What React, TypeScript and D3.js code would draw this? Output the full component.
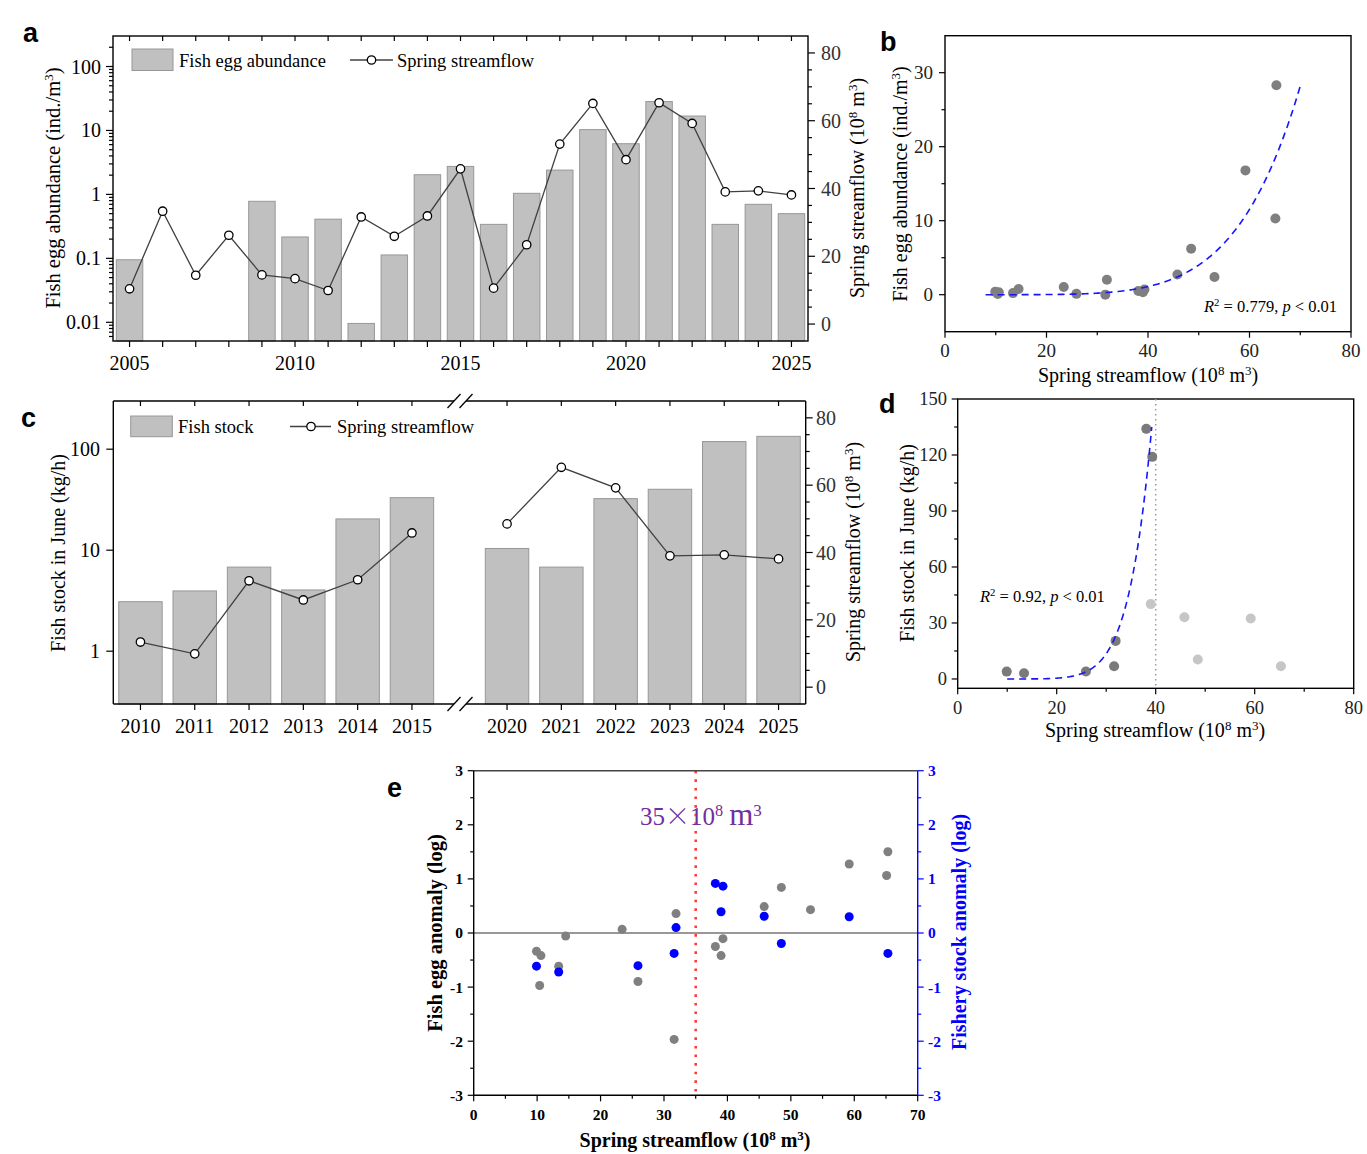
import * as d3 from "d3";

// ---- data ----
const years = [
  2005, 2006, 2007, 2008, 2009, 2010, 2011, 2012, 2013, 2014, 2015,
  2016, 2017, 2018, 2019, 2020, 2021, 2022, 2023, 2024, 2025,
];
// spring streamflow (10^8 m^3)
const streamflow = [
  10.4, 33.3, 14.4, 26.2, 14.5, 13.4, 9.9, 31.6, 25.9, 31.9, 45.8,
  10.6, 23.4, 53.1, 65.1, 48.5, 65.3, 59.2, 39.0, 39.3, 38.1,
];
// fish egg abundance (ind./m^3), no survey 2006-2008
const eggAbundance: (number | null)[] = [
  0.095, null, null, null, 0.78, 0.216, 0.41, 0.0096, 0.113, 2.03, 2.74,
  0.34, 1.04, 2.4, 10.3, 6.2, 28.3, 16.8, 0.34, 0.7, 0.5,
];
// fish stock in June (kg/h)
const stockYears = [2010, 2011, 2012, 2013, 2014, 2015, 2020, 2021, 2022, 2023, 2024, 2025];
const fishStock = [3.09, 3.95, 6.8, 4.04, 20.4, 33.1, 10.4, 6.8, 32.4, 40.1, 119, 134];
// years used for the fit in panel d (dark points)
const stockFitYears = [2010, 2011, 2012, 2013, 2014, 2024, 2025];

const eggTicks = [0.01, 0.1, 1, 10, 100];
const stockTicks = [1, 10, 100];
const flowTicks = [0, 20, 40, 60, 80];
const yearLabelsA = [2005, 2010, 2015, 2020, 2025];

// fitted curves (power law through the end point)
const fitB = { k: 5.8, x0: 8, x1: 70, y1: 28.2 };
const fitD = { k: 8.6, x0: 10, x1: 39.2, y1: 135 };
const thresholdE = 35;

// ---- derived ----
const flowByYear = new Map(years.map((y, i) => [y, streamflow[i]]));
const eggPoints = years
  .map((y, i) => ({ year: y, flow: streamflow[i], egg: eggAbundance[i] as number }))
  .filter((d) => d.egg != null);
const stockPoints = stockYears.map((y, i) => ({
  year: y,
  flow: flowByYear.get(y)!,
  stock: fishStock[i],
  fit: stockFitYears.includes(y),
}));
const eggMeanLog = d3.mean(eggPoints, (d) => Math.log10(d.egg))!;
const stockMeanLog = d3.mean(stockPoints, (d) => Math.log10(d.stock))!;

const serif = "'Liberation Serif', 'Times New Roman', serif";
const sans = "'Liberation Sans', Arial, sans-serif";

const BAR_FILL = "#c0c0c0";
const BAR_STROKE = "#979797";

const Sup = ({ children }: { children: string }) => (
  <tspan baselineShift="super" fontSize="0.65em">
    {children}
  </tspan>
);

const FlowTitle = () => (
  <>
    Spring streamflow (10<Sup>8</Sup> m<Sup>3</Sup>)
  </>
);

type Sc = (v: number) => number;

const vTicks = (key: string, vals: number[], y: Sc, x: number, len: number, stroke = "#000") =>
  vals.map((v, i) => (
    <line key={key + i} x1={x} x2={x + len} y1={y(v)} y2={y(v)} stroke={stroke} strokeWidth={1.2} />
  ));

const hTicks = (key: string, vals: number[], x: Sc, y: number, len: number, stroke = "#000") =>
  vals.map((v, i) => (
    <line key={key + i} x1={x(v)} x2={x(v)} y1={y} y2={y + len} stroke={stroke} strokeWidth={1.2} />
  ));

const vLabels = (
  key: string,
  vals: number[],
  y: Sc,
  x: number,
  anchor: string,
  size: number,
  extra: Record<string, any> = {}
) =>
  vals.map((v, i) => (
    <text key={key + i} x={x} y={y(v)} dy="0.35em" textAnchor={anchor} fontSize={size} {...extra}>
      {String(v)}
    </text>
  ));

const hLabels = (key: string, vals: number[], x: Sc, y: number, size: number, extra: Record<string, any> = {}) =>
  vals.map((v, i) => (
    <text key={key + i} x={x(v)} y={y} textAnchor="middle" fontSize={size} {...extra}>
      {String(v)}
    </text>
  ));

const vTitle = (cx: number, cy: number, size: number, content: any, extra: Record<string, any> = {}) => (
  <text transform={`translate(${cx},${cy}) rotate(-90)`} textAnchor="middle" dy="0.35em" fontSize={size} {...extra}>
    {content}
  </text>
);

const logMinor = (lo: number, hi: number) =>
  d3
    .range(-3, 3)
    .flatMap((e) => d3.range(2, 10).map((m) => m * 10 ** e))
    .filter((v) => v > lo && v < hi);

const powerCurve = (f: { k: number; x0: number; x1: number; y1: number }) =>
  d3.range(f.x0, f.x1 + 0.001, 0.2).map((x) => [x, f.y1 * (x / f.x1) ** f.k] as [number, number]);

export default function App() {
  // ---------- panel a ----------
  const A = { l: 113, t: 36, r: 808, b: 341 };
  const xA = d3.scaleLinear().domain([2004.5, 2025.5]).range([A.l, A.r]);
  const yA = d3.scaleLog().domain([0.0051, 300]).range([A.b, A.t]);
  const fA = d3.scaleLinear().domain([-5, 85]).range([A.b, A.t]);
  const bwA = (xA(1) - xA(0)) * 0.8;
  const lineA = d3
    .line<number>()
    .x((_, i) => xA(years[i]))
    .y((d) => fA(d))(streamflow)!;

  // ---------- panel b ----------
  const B = { l: 945, t: 35.7, r: 1351, b: 331.7 };
  const xB = d3.scaleLinear().domain([0, 80]).range([B.l, B.r]);
  const yB = d3.scaleLinear().domain([-5, 35]).range([B.b, B.t]);
  const fitPathB = d3
    .line<[number, number]>()
    .x((d) => xB(d[0]))
    .y((d) => yB(d[1]))(powerCurve(fitB))!;

  // ---------- panel c ----------
  const C = { l: 113.3, t: 401, r: 805.7, b: 704 };
  const xC = d3.scaleLinear().domain([2009.5, 2015.78, 2019.2, 2025.5]).range([C.l, 454.3, 463.6, C.r]);
  const yC = d3.scaleLog().domain([0.3, 300]).range([C.b, C.t]);
  const fC = d3.scaleLinear().domain([-5, 85]).range([C.b, C.t]);
  const bwC = (xC(2011) - xC(2010)) * 0.8;
  const lineC = d3
    .line<{ year: number; flow: number }>()
    .x((d) => xC(d.year))
    .y((d) => fC(d.flow));
  const segC1 = stockPoints.filter((d) => d.year < 2017);
  const segC2 = stockPoints.filter((d) => d.year > 2017);
  const brk1 = 454;
  const brk2 = 466;

  // ---------- panel d ----------
  const D = { l: 957.7, t: 399, r: 1353.7, b: 688.3 };
  const xD = d3.scaleLinear().domain([0, 80]).range([D.l, D.r]);
  const yD = d3.scaleLinear().domain([-5, 150]).range([D.b, D.t]);
  const fitPathD = d3
    .line<[number, number]>()
    .x((d) => xD(d[0]))
    .y((d) => yD(d[1]))(powerCurve(fitD))!;

  // ---------- panel e ----------
  const E = { l: 473.7, t: 770.7, r: 917.7, b: 1095.3 };
  const xE = d3.scaleLinear().domain([0, 70]).range([E.l, E.r]);
  const yE = d3.scaleLinear().domain([-3, 3]).range([E.b, E.t]);
  const BLUE = "#0000ff";

  return (
    <svg
      width={1367}
      height={1154}
      style={{ position: "absolute", left: 0, top: 0, background: "#fff" }}
      fontFamily={serif}
    >
      <rect width={1367} height={1154} fill="#fff" />

      {/* panel letters */}
      <g fontFamily={sans} fontWeight="bold" fontSize={27}>
        <text x={23} y={42}>a</text>
        <text x={880} y={51}>b</text>
        <text x={21} y={427}>c</text>
        <text x={879} y={413}>d</text>
        <text x={387} y={797}>e</text>
      </g>

      {/* ================= a ================= */}
      <g>
        {eggPoints.map((d) => (
          <rect
            key={d.year}
            x={xA(d.year) - bwA / 2}
            y={yA(d.egg)}
            width={bwA}
            height={A.b - yA(d.egg)}
            fill={BAR_FILL}
            stroke={BAR_STROKE}
            strokeWidth={1}
          />
        ))}
        <path d={lineA} fill="none" stroke="#404040" strokeWidth={1.3} />
        {years.map((y, i) => (
          <circle key={y} cx={xA(y)} cy={fA(streamflow[i])} r={4.2} fill="#fff" stroke="#000" strokeWidth={1.3} />
        ))}
        <rect x={A.l} y={A.t} width={A.r - A.l} height={A.b - A.t} fill="none" stroke="#000" strokeWidth={1.4} />
        {vTicks("aL", eggTicks, yA, A.l, -7)}
        {vTicks("aLm", logMinor(0.0051, 300), yA, A.l, -4)}
        {vTicks("aR", flowTicks, fA, A.r, 7)}
        {vTicks("aRm", d3.range(5, 80, 5).filter((v) => v % 20 !== 0), fA, A.r, 4)}
        {hTicks("aB", years, xA, A.b, 6)}
        {hTicks("aT", years, xA, A.t, 5)}
        {vLabels("aLl", eggTicks, yA, 101, "end", 20)}
        {vLabels("aRl", flowTicks, fA, 821, "start", 20, { fill: "#333" })}
        {hLabels("aBl", yearLabelsA, xA, 370, 20)}
        {vTitle(53, 188, 20.5, <>Fish egg abundance (ind./m<Sup>3</Sup>)</>)}
        {vTitle(857, 188, 20, <FlowTitle />)}
        {/* legend */}
        <rect x={132} y={49} width={41} height={21.5} fill={BAR_FILL} stroke={BAR_STROKE} />
        <text x={179} y={67} fontSize={18.5}>Fish egg abundance</text>
        <line x1={350} x2={393} y1={60} y2={60} stroke="#404040" strokeWidth={1.3} />
        <circle cx={371.5} cy={60} r={4.2} fill="#fff" stroke="#000" strokeWidth={1.3} />
        <text x={397} y={67} fontSize={18.5}>Spring streamflow</text>
      </g>

      {/* ================= b ================= */}
      <g>
        <rect x={B.l} y={B.t} width={B.r - B.l} height={B.b - B.t} fill="none" stroke="#000" strokeWidth={1.4} />
        {hTicks("bB", [0, 20, 40, 60, 80], xB, B.b, 6)}
        {hTicks("bBm", [10, 30, 50, 70], xB, B.b, 3.5)}
        {vTicks("bL", [0, 10, 20, 30], yB, B.l, -6)}
        {vTicks("bLm", [5, 15, 25], yB, B.l, -3.5)}
        {hLabels("bBl", [0, 20, 40, 60, 80], xB, 357, 19, { fill: "#222" })}
        {vLabels("bLl", [0, 10, 20, 30], yB, 933, "end", 19, { fill: "#222" })}
        {eggPoints.map((d) => (
          <circle key={d.year} cx={xB(d.flow)} cy={yB(d.egg)} r={5} fill="#7f7f7f" />
        ))}
        <path d={fitPathB} fill="none" stroke="#1515ff" strokeWidth={1.6} strokeDasharray="7,5" />
        <text x={1204} y={312} fontSize={16.5}>
          <tspan fontStyle="italic">R</tspan>
          <Sup>2</Sup> = 0.779, <tspan fontStyle="italic">p</tspan> &lt; 0.01
        </text>
        {vTitle(900, 184, 20, <>Fish egg abundance (ind./m<Sup>3</Sup>)</>)}
        <text x={1148} y={382} textAnchor="middle" fontSize={20}>
          <FlowTitle />
        </text>
      </g>

      {/* ================= c ================= */}
      <g>
        {stockPoints.map((d) => (
          <rect
            key={d.year}
            x={xC(d.year) - bwC / 2}
            y={yC(d.stock)}
            width={bwC}
            height={C.b - yC(d.stock)}
            fill={BAR_FILL}
            stroke={BAR_STROKE}
            strokeWidth={1}
          />
        ))}
        <path d={lineC(segC1)!} fill="none" stroke="#404040" strokeWidth={1.3} />
        <path d={lineC(segC2)!} fill="none" stroke="#404040" strokeWidth={1.3} />
        {stockPoints.map((d) => (
          <circle key={d.year} cx={xC(d.year)} cy={fC(d.flow)} r={4.2} fill="#fff" stroke="#000" strokeWidth={1.3} />
        ))}
        {/* frame with axis break */}
        <g stroke="#000" strokeWidth={1.4} fill="none">
          <line x1={C.l} x2={C.l} y1={C.t} y2={C.b} />
          <line x1={C.r} x2={C.r} y1={C.t} y2={C.b} />
          <line x1={C.l} x2={brk1} y1={C.b} y2={C.b} />
          <line x1={brk2} x2={C.r} y1={C.b} y2={C.b} />
          <line x1={C.l} x2={brk1} y1={C.t} y2={C.t} />
          <line x1={brk2} x2={C.r} y1={C.t} y2={C.t} />
          {[C.t, C.b].map((yy) =>
            [brk1, brk2].map((bx) => (
              <line key={`${yy}-${bx}`} x1={bx - 6.5} x2={bx + 6.5} y1={yy + 7} y2={yy - 7} strokeWidth={1.3} />
            ))
          )}
        </g>
        {vTicks("cL", stockTicks, yC, C.l, -7)}
        {vTicks("cR", flowTicks, fC, C.r, 7)}
        {vTicks("cRm", d3.range(5, 80, 5).filter((v) => v % 20 !== 0), fC, C.r, 4)}
        {hTicks("cB", stockYears, xC, C.b, 6)}
        {hTicks("cT", stockYears, xC, C.t, 5)}
        {vLabels("cLl", stockTicks, yC, 100, "end", 20)}
        {vLabels("cRl", flowTicks, fC, 816, "start", 20, { fill: "#333" })}
        {hLabels("cBl", stockYears, xC, 733, 20)}
        {vTitle(58, 553, 20, "Fish stock in June (kg/h)")}
        {vTitle(853, 552, 20, <FlowTitle />)}
        <rect x={130.7} y={416} width={41.6} height={20.7} fill={BAR_FILL} stroke={BAR_STROKE} />
        <text x={178} y={433} fontSize={18.5}>Fish stock</text>
        <line x1={290} x2={331} y1={426.5} y2={426.5} stroke="#404040" strokeWidth={1.3} />
        <circle cx={311} cy={426.5} r={4.2} fill="#fff" stroke="#000" strokeWidth={1.3} />
        <text x={337} y={433} fontSize={18.5}>Spring streamflow</text>
      </g>

      {/* ================= d ================= */}
      <g>
        <rect x={D.l} y={D.t} width={D.r - D.l} height={D.b - D.t} fill="none" stroke="#000" strokeWidth={1.4} />
        <line x1={xD(40)} x2={xD(40)} y1={D.t} y2={D.b} stroke="#999" strokeWidth={1.5} strokeDasharray="1.5,3.5" />
        {hTicks("dB", [0, 20, 40, 60, 80], xD, D.b, 6)}
        {hTicks("dBm", [10, 30, 50, 70], xD, D.b, 3.5)}
        {vTicks("dL", [0, 30, 60, 90, 120, 150], yD, D.l, -6)}
        {vTicks("dLm", [15, 45, 75, 105, 135], yD, D.l, -3.5)}
        {hLabels("dBl", [0, 20, 40, 60, 80], xD, 714, 18.5, { fill: "#222" })}
        {vLabels("dLl", [0, 30, 60, 90, 120, 150], yD, 947, "end", 18.5, { fill: "#222" })}
        {stockPoints.map((d) => (
          <circle key={d.year} cx={xD(d.flow)} cy={yD(d.stock)} r={5} fill={d.fit ? "#7a7a7a" : "#c6c6c6"} />
        ))}
        <path d={fitPathD} fill="none" stroke="#1515ff" strokeWidth={1.6} strokeDasharray="7,5" />
        <text x={980} y={602} fontSize={16.5}>
          <tspan fontStyle="italic">R</tspan>
          <Sup>2</Sup> = 0.92, <tspan fontStyle="italic">p</tspan> &lt; 0.01
        </text>
        {vTitle(907, 543, 20, "Fish stock in June (kg/h)")}
        <text x={1155} y={737} textAnchor="middle" fontSize={20}>
          <FlowTitle />
        </text>
      </g>

      {/* ================= e ================= */}
      <g fontWeight="bold">
        <line x1={E.l} x2={E.r} y1={yE(0)} y2={yE(0)} stroke="#333" strokeWidth={1.2} />
        <line x1={xE(thresholdE)} x2={xE(thresholdE)} y1={E.t} y2={E.b} stroke="#ff3b3b" strokeWidth={2.6} strokeDasharray="2.6,6" />
        {eggPoints.map((d) => (
          <circle key={"g" + d.year} cx={xE(d.flow)} cy={yE(Math.log10(d.egg) - eggMeanLog)} r={4.5} fill="#808080" />
        ))}
        {stockPoints.map((d) => (
          <circle key={"s" + d.year} cx={xE(d.flow)} cy={yE(Math.log10(d.stock) - stockMeanLog)} r={4.5} fill={BLUE} />
        ))}
        <line x1={E.l} x2={E.r} y1={E.t} y2={E.t} stroke="#444" strokeWidth={1.4} />
        <line x1={E.l} x2={E.r} y1={E.b} y2={E.b} stroke="#000" strokeWidth={1.4} />
        <line x1={E.l} x2={E.l} y1={E.t} y2={E.b} stroke="#000" strokeWidth={1.4} />
        <line x1={E.r} x2={E.r} y1={E.t} y2={E.b} stroke={BLUE} strokeWidth={1.4} />
        {vTicks("eL", d3.range(-3, 4), yE, E.l, -6)}
        {vTicks("eLm", d3.range(-2.5, 3, 1), yE, E.l, -3.5)}
        {vTicks("eR", d3.range(-3, 4), yE, E.r, 6, BLUE)}
        {vTicks("eRm", d3.range(-2.5, 3, 1), yE, E.r, 3.5, BLUE)}
        {hTicks("eB", d3.range(0, 71, 10), xE, E.b, 6)}
        {hTicks("eBm", d3.range(5, 70, 10), xE, E.b, 3.5)}
        {vLabels("eLl", d3.range(-3, 4), yE, 463, "end", 15.5)}
        {vLabels("eRl", d3.range(-3, 4), yE, 928, "start", 15.5, { fill: BLUE })}
        {hLabels("eBl", d3.range(0, 71, 10), xE, 1120, 15.5)}
        {vTitle(435, 933, 20.5, "Fish egg anomaly (log)")}
        {vTitle(959, 932, 20, "Fishery stock anomaly (log)", { fill: BLUE })}
        <text x={695} y={1147} textAnchor="middle" fontSize={20}>
          <FlowTitle />
        </text>
        <text x={640} y={825} fontSize={25} fill="#7030a0" fontWeight="normal">
          35<tspan fontFamily="'Noto Sans CJK SC'" fontWeight="200">×</tspan>10<Sup>8</Sup>
          <tspan dx={6} fontSize={31}>m</tspan>
          <tspan baselineShift="super" fontSize={17}>3</tspan>
        </text>
      </g>
    </svg>
  );
}
